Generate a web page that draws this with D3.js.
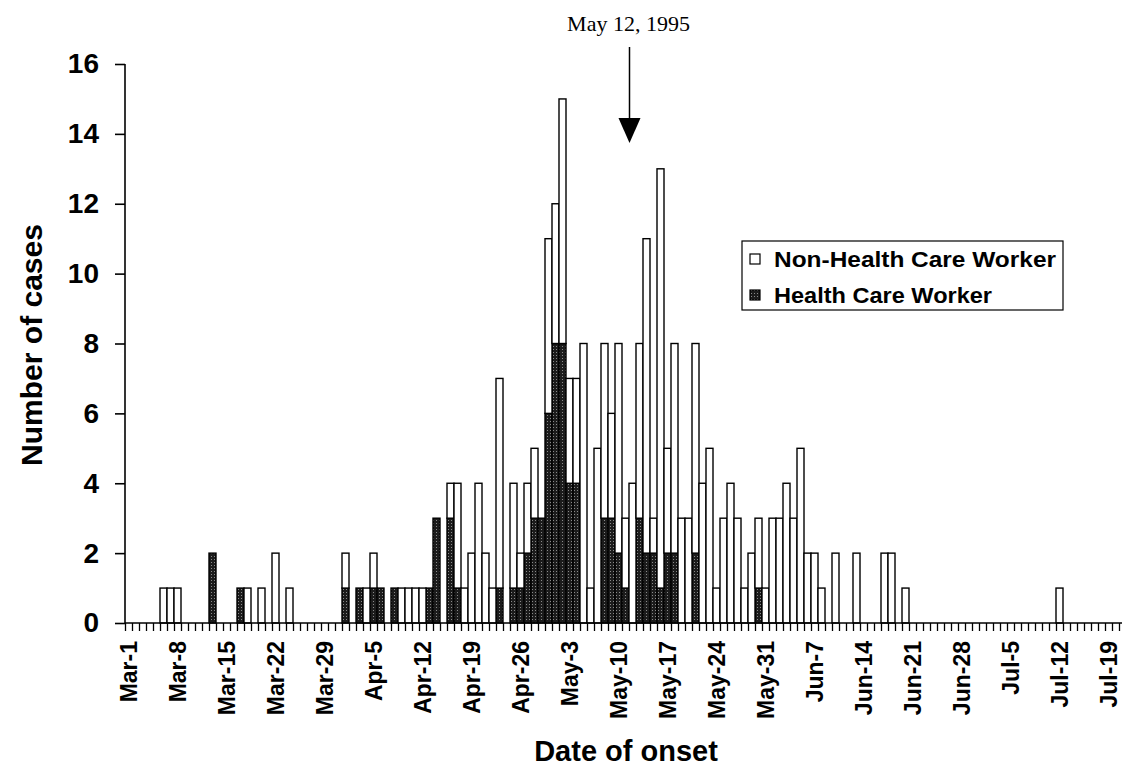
<!DOCTYPE html>
<html>
<head>
<meta charset="utf-8">
<script src="https://cdn.jsdelivr.net/npm/d3@7/dist/d3.min.js"></script>
<style>
	body { margin: 0; background: #fff; }
	svg text { font-family: "Liberation Sans", Arial, sans-serif; font-weight: bold; fill: #000; }
</style>
</head>
<body>
<script>

	// one category per day, Mar-1 .. Jul-20 1995
	var days = d3.range(142);

	var tickLabels = ["Mar-1", "Mar-8", "Mar-15", "Mar-22", "Mar-29", "Apr-5", "Apr-12",
		"Apr-19", "Apr-26", "May-3", "May-10", "May-17", "May-24", "May-31", "Jun-7",
		"Jun-14", "Jun-21", "Jun-28", "Jul-5", "Jul-12", "Jul-19"];

	var yTicks = [0, 2, 4, 6, 8, 10, 12, 14, 16];

	// cases per day, a row is one week
	var healthCare = [
		0, 0, 0, 0, 0, 0, 0,
		0, 0, 0, 0, 0, 2, 0,
		0, 0, 1, 0, 0, 0, 0,
		0, 0, 0, 0, 0, 0, 0,
		0, 0, 0, 1, 0, 1, 0,
		1, 1, 0, 1, 0, 0, 0,
		0, 1, 3, 0, 3, 1, 0,
		0, 0, 0, 0, 1, 0, 1,
		1, 2, 3, 3, 6, 8, 8,
		4, 4, 0, 0, 0, 3, 3,
		2, 1, 0, 3, 2, 2, 1,
		2, 2, 0, 0, 2, 0, 0,
		0, 0, 0, 0, 0, 0, 1,
		0, 0, 0, 0, 0, 0, 0,
		0, 0, 0, 0, 0, 0, 0,
		0, 0, 0, 0, 0, 0, 0,
		0, 0, 0, 0, 0, 0, 0,
		0, 0, 0, 0, 0, 0, 0,
		0, 0, 0, 0, 0, 0, 0,
		0, 0, 0, 0, 0, 0, 0,
		0, 0
	];

	var nonHealthCare = [
		0, 0, 0, 0, 0, 1, 1,
		1, 0, 0, 0, 0, 0, 0,
		0, 0, 0, 1, 0, 1, 0,
		2, 0, 1, 0, 0, 0, 0,
		0, 0, 0, 1, 0, 0, 1,
		1, 0, 0, 0, 1, 1, 1,
		1, 0, 0, 0, 1, 3, 1,
		2, 4, 2, 1, 6, 0, 3,
		1, 2, 2, 0, 5, 4, 7,
		3, 3, 8, 1, 5, 5, 3,
		6, 2, 4, 5, 9, 1, 12,
		3, 6, 3, 3, 6, 4, 5,
		1, 3, 4, 3, 1, 2, 2,
		1, 3, 3, 4, 3, 5, 2,
		2, 1, 0, 2, 0, 0, 2,
		0, 0, 0, 2, 2, 0, 1,
		0, 0, 0, 0, 0, 0, 0,
		0, 0, 0, 0, 0, 0, 0,
		0, 0, 0, 0, 0, 0, 0,
		1, 0, 0, 0, 0, 0, 0,
		0, 0
	];

	var legendLabels = ["Non-Health Care Worker", "Health Care Worker"];

	var markerDay = 72;	// May-12
	var markerText = "May 12, 1995";

	drawChart();

	///////////////////////////

	function drawChart() {

		var width = 1122,
			height = 773;

		var svg = d3.select("body").append("svg")
			.attr("width", width)
			.attr("height", height);

		// dark stipple used for health care workers
		var pat = svg.append("defs").append("pattern")
			.attr("id", "stipple")
			.attr("width", 3)
			.attr("height", 3)
			.attr("patternUnits", "userSpaceOnUse");
		pat.append("rect").attr("width", 3).attr("height", 3).attr("fill", "#1c1c1c");
		pat.append("rect").attr("x", 1).attr("y", 1).attr("width", 1).attr("height", 1).attr("fill", "#8a8a8a");

		var x = d3.scaleBand()
			.domain(days)
			.range([125, 1119])
			.padding(0);

		var xEdge = d3.scaleLinear()
			.domain([0, days.length])
			.range([125, 1119]);

		var y = d3.scaleLinear()
			.domain([0, 16])
			.range([623, 64]);

		var data = days.map(function(d) {
			return {day: d, hcw: healthCare[d], non: nonHealthCare[d]};
		});

		// bars: health care workers at the bottom, others stacked on top
		var g = svg.append("g");

		g.selectAll(".hcw")
			.data(data.filter(function(d) { return d.hcw > 0; }))
			.enter().append("rect")
			.attr("class", "hcw")
			.attr("x", function(d) { return x(d.day); })
			.attr("width", x.bandwidth())
			.attr("y", function(d) { return y(d.hcw); })
			.attr("height", function(d) { return y(0) - y(d.hcw); })
			.attr("fill", "url(#stipple)")
			.attr("stroke", "#000")
			.attr("stroke-width", 1.4);

		g.selectAll(".non")
			.data(data.filter(function(d) { return d.non > 0; }))
			.enter().append("rect")
			.attr("class", "non")
			.attr("x", function(d) { return x(d.day); })
			.attr("width", x.bandwidth())
			.attr("y", function(d) { return y(d.hcw + d.non); })
			.attr("height", function(d) { return y(d.hcw) - y(d.hcw + d.non); })
			.attr("fill", "#fff")
			.attr("stroke", "#000")
			.attr("stroke-width", 1.4);

		// y axis
		var yAxis = svg.append("g")
			.attr("transform", "translate(125,0)")
			.call(d3.axisLeft(y).tickValues(yTicks).tickSize(10).tickPadding(16));
		yAxis.selectAll("path, line").attr("stroke", "#000").attr("stroke-width", 1.6);
		yAxis.selectAll("text").attr("font-size", 28).style("font-family", "Liberation Sans, Arial, sans-serif").style("font-weight", "bold");
		yAxis.select(".domain").attr("d", "M0," + y(16) + "V" + y(0));

		// x axis, a tick between each day
		var xAxis = svg.append("g")
			.attr("transform", "translate(0," + y(0) + ")")
			.call(d3.axisBottom(xEdge).tickValues(d3.range(days.length + 1)).tickSize(8).tickFormat(""));
		xAxis.selectAll("path, line").attr("stroke", "#000").attr("stroke-width", 1.3);
		xAxis.select(".domain").attr("d", "M125,0H1122").attr("stroke-width", 1.6);

		svg.append("g").selectAll("text")
			.data(tickLabels)
			.enter().append("text")
			.attr("transform", function(d, i) {
				return "translate(" + (x(i * 7) + x.bandwidth() / 2) + ",641) rotate(-90)";
			})
			.attr("text-anchor", "end")
			.attr("dy", "0.36em")
			.attr("font-size", 23)
			.text(function(d) { return d; });

		// axis titles
		svg.append("text")
			.attr("x", 626)
			.attr("y", 761)
			.attr("text-anchor", "middle")
			.attr("font-size", 29)
			.text("Date of onset");

		svg.append("text")
			.attr("transform", "translate(42,345) rotate(-90)")
			.attr("text-anchor", "middle")
			.attr("font-size", 30)
			.text("Number of cases");

		// arrow marking the date
		var ax = x(markerDay) + x.bandwidth() / 2 - 3;
		svg.append("text")
			.attr("x", ax - 1)
			.attr("y", 31)
			.attr("text-anchor", "middle")
			.attr("font-size", 22)
			.style("font-family", "Liberation Serif, Times New Roman, serif")
			.style("font-weight", "normal")
			.text(markerText);
		svg.append("line")
			.attr("x1", ax).attr("x2", ax)
			.attr("y1", 47).attr("y2", 120)
			.attr("stroke", "#000")
			.attr("stroke-width", 1.5);
		svg.append("path")
			.attr("d", "M" + (ax - 11) + ",118L" + (ax + 11) + ",118L" + ax + ",143Z")
			.attr("fill", "#000");

		// legend
		var lg = svg.append("g").attr("transform", "translate(742,241)");
		lg.append("rect")
			.attr("width", 321)
			.attr("height", 69)
			.attr("fill", "#fff")
			.attr("stroke", "#000")
			.attr("stroke-width", 1.2);
		var item = lg.selectAll(".item")
			.data(legendLabels)
			.enter().append("g")
			.attr("class", "item")
			.attr("transform", function(d, i) { return "translate(8," + (18 + i * 36) + ")"; });
		item.append("rect")
			.attr("y", -5)
			.attr("width", 10)
			.attr("height", 10)
			.attr("fill", function(d, i) { return i === 0 ? "#fff" : "url(#stipple)"; })
			.attr("stroke", "#000")
			.attr("stroke-width", 1.2);
		item.append("text")
			.attr("x", 24)
			.attr("dy", "0.36em")
			.attr("font-size", 22)
			.attr("textLength", function(d, i) { return i === 0 ? 282 : 218; })
			.attr("lengthAdjust", "spacingAndGlyphs")
			.text(function(d) { return d; });
	}

</script>
</body>
</html>
